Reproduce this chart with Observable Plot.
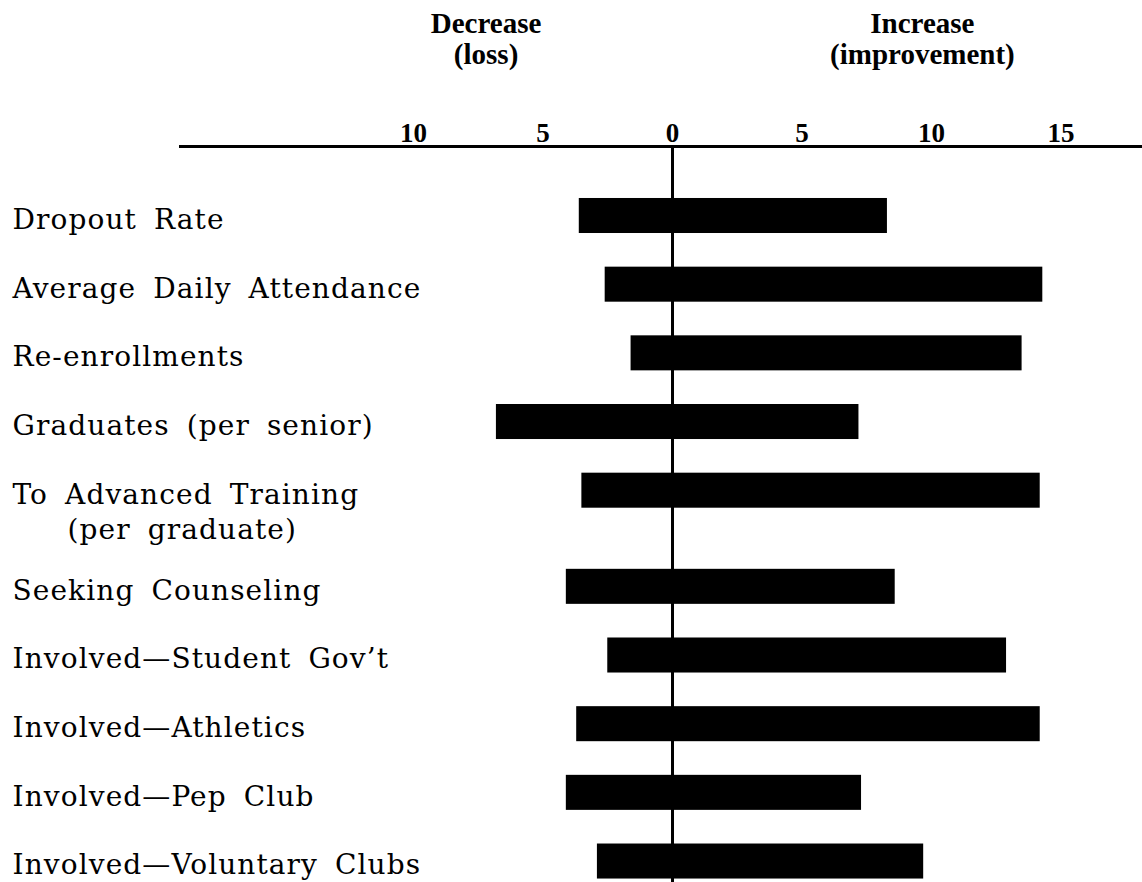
<!DOCTYPE html>
<html><head><meta charset="utf-8">
<script src="https://cdn.jsdelivr.net/npm/d3@7"></script>
<script src="https://cdn.jsdelivr.net/npm/@observablehq/plot@0.6"></script>
<style>
body{margin:0;background:#fff}
svg{display:block}
</style>
</head><body><div id="chart"></div>
<script>
const categories = [
  "Dropout Rate",
  "Average Daily Attendance",
  "Re-enrollments",
  "Graduates (per senior)",
  "To Advanced Training",
  "Seeking Counseling",
  "Involved\u2014Student Gov\u2019t",
  "Involved\u2014Athletics",
  "Involved\u2014Pep Club",
  "Involved\u2014Voluntary Clubs"
];
const sublabels = ["", "", "", "", "(per graduate)", "", "", "", "", ""];
const decrease = [-3.6, -2.6, -1.6, -6.8, -3.5, -4.1, -2.5, -3.7, -4.1, -2.9];
const increase = [8.3, 14.3, 13.5, 7.2, 14.2, 8.6, 12.9, 14.2, 7.3, 9.7];
const tickValues = [-10, -5, 0, 5, 10, 15];
const headerLabels = ["Decrease\n(loss)", "Increase\n(improvement)"];
const headerX = [-7.2, 9.65];

// row position: one step per category, plus extra room after a two-line label
const extraGap = 0.4;
let offset = 0;
const rows = categories.map((c, i) => {
  const r = {category: c, sub: sublabels[i], lo: decrease[i], hi: increase[i], pos: i + offset};
  if (sublabels[i]) offset += extraGap;
  return r;
});
const headers = headerLabels.map((t, i) => ({text: t, x: headerX[i]}));
const half = 0.255;

const chart = Plot.plot({
  width: 1142, height: 882,
  marginTop: 146, marginBottom: 3.6, marginLeft: 180, marginRight: 0,
  style: {background: "#fff", color: "#000"},
  x: {domain: [-19, 18.15]},
  y: {domain: [-1.012, 9.653], reverse: true, axis: null},
  marks: [
    Plot.frame({anchor: "top", stroke: "#000", strokeWidth: 3}),
    Plot.axisX(tickValues, {anchor: "top", tickSize: 0, tickPadding: 5, tickFormat: d => Math.abs(d),
      fontSize: 27, fontWeight: "bold", fontFamily: "Liberation Serif", fill: "#000", label: null}),
    Plot.rect(rows, {x1: "lo", x2: "hi", y1: d => d.pos - half, y2: d => d.pos + half, fill: "#000"}),
    Plot.ruleX([0], {stroke: "#000", strokeWidth: 3, insetBottom: -4}),
    Plot.text(rows, {y: "pos", text: "category", frameAnchor: "left", textAnchor: "start",
      dx: -168, dy: 4, fontSize: 28, fontFamily: "DejaVu Serif", fill: "#000"}),
    Plot.text(rows.filter(d => d.sub), {y: "pos", text: "sub", frameAnchor: "left", textAnchor: "start",
      dx: -113, dy: 39, fontSize: 28, fontFamily: "DejaVu Serif", fill: "#000"}),
    Plot.text(headers, {x: "x", text: "text", frameAnchor: "top", lineAnchor: "top", dy: -135,
      fontSize: 29, fontWeight: "bold", fontFamily: "Liberation Serif", lineHeight: 1.05, fill: "#000"})
  ]
});
// widen the row labels a little, like the wide typeface of the original
const labelSet = new Set(categories.concat(sublabels.filter(s => s)));
d3.select(chart).selectAll("text")
  .filter(function() { return labelSet.has(this.textContent); })
  .attr("letter-spacing", 1.1)
  .attr("word-spacing", 7);
document.getElementById("chart").appendChild(chart);
</script>
</body></html>
